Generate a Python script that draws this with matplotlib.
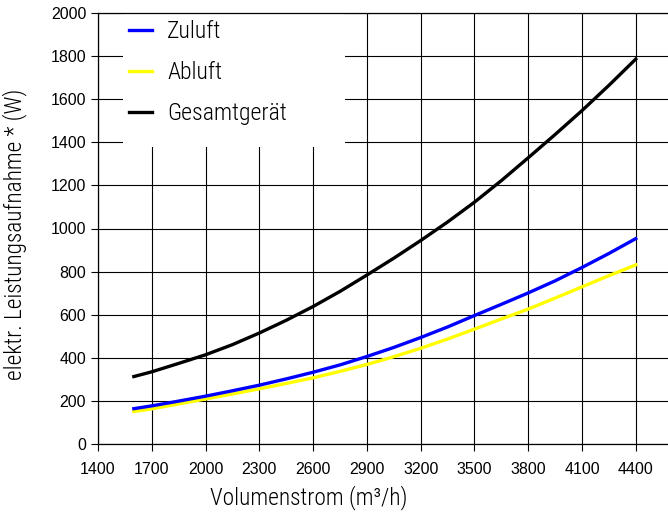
import matplotlib
matplotlib.use('Agg')
import matplotlib.pyplot as plt
from matplotlib import font_manager
from matplotlib.patches import Rectangle

# values (every 150 m3/h)
volumen = [1600, 1700, 1850, 2000, 2150, 2300, 2450, 2600, 2750, 2900,
           3050, 3200, 3350, 3500, 3650, 3800, 3950, 4100, 4250, 4400]
zuluft = [164, 177, 199, 222, 247, 273, 302, 333, 367, 406,
          448, 494, 543, 596, 648, 701, 757, 819, 884, 953]
abluft = [151, 163, 186, 209, 232, 256, 281, 307, 337, 369,
          405, 444, 487, 533, 580, 626, 677, 729, 781, 831]
gesamt = [313, 335, 374, 414, 461, 515, 574, 638, 708, 784,
          862, 944, 1030, 1122, 1222, 1328, 1436, 1547, 1664, 1786]

xticks = list(range(1400, 4401, 300))
yticks = list(range(0, 2001, 200))

names = set(f.name for f in font_manager.fontManager.ttflist)
narrow = 'DejaVu Sans'
for cand in ['Roboto Condensed', 'Fira Sans Condensed', 'Barlow Semi Condensed',
             'Encode Sans Semi Condensed', 'Asap Condensed', 'PT Sans Narrow',
             'Liberation Sans Narrow']:
  if cand in names:
    narrow = cand
    break
WEIGHT = 'light'
plt.rcParams['font.family'] = ['Liberation Sans', 'DejaVu Sans']

fig = plt.figure(figsize=(6.68, 5.13), dpi=100)
# axes runs off the right edge like in the original scan
ax = fig.add_axes([98/668, 1 - 444/513, 1 - 98/668, (444 - 13)/513])
renderer = fig.canvas.get_renderer()

def fit_size(text, target_px, size=14.0):
  # pick a font size so that the text is about target_px long
  t = fig.text(0, 0, text, family=narrow, fontsize=size, weight=WEIGHT)
  w = t.get_window_extent(renderer).width
  t.remove()
  return size * target_px / w

ax.plot(volumen, zuluft, color='#0000ff', lw=2.4, label='Zuluft', zorder=3)
ax.plot(volumen, abluft, color='#ffff00', lw=2.4, label='Abluft', zorder=2.9)
ax.plot(volumen, gesamt, color='black', lw=2.4, label='Gesamtgerät', zorder=3)

ax.set_xlim(1400, 4580)
ax.set_ylim(0, 2000)
ax.set_xticks(xticks)
ax.set_yticks(yticks)
ax.grid(True, color='black', lw=0.8)
ax.set_axisbelow(True)
ax.tick_params(axis='both', labelsize=11.5, length=5, width=0.8, direction='out')
ax.tick_params(axis='x', pad=8)
ax.spines['right'].set_visible(False)
for s in ['left', 'bottom', 'top']:
  ax.spines[s].set_linewidth(0.9)

xs = fit_size('Volumenstrom (m³/h)', 198)
ax.set_xlabel('Volumenstrom (m³/h)', fontsize=xs, family=narrow, weight=WEIGHT)
ax.xaxis.set_label_coords(211/570, -0.095)
ys = fit_size('elektr. Leistungsaufnahme * (W)', 292)
ax.set_ylabel('elektr. Leistungsaufnahme * (W)', fontsize=ys, family=narrow, weight=WEIGHT)
ax.yaxis.set_label_coords(-0.125, 0.487)

# white block behind the legend, larger than the entries
ax.add_patch(Rectangle((25/570, (444 - 147)/431), 222/570, 1.0, transform=ax.transAxes,
                       facecolor='white', edgecolor='none', zorder=1, clip_on=True))
ls = fit_size('Gesamtgerät', 120)
fpx = ls * 100 / 72
leg = ax.legend(loc='upper left', bbox_to_anchor=(31/570, (444 - (29 - 0.37*fpx))/431),
                frameon=False, prop={'family': narrow, 'size': ls, 'weight': WEIGHT},
                handlelength=23/fpx, handletextpad=15/fpx,
                labelspacing=(40 - 0.93*fpx)/fpx, borderpad=0, borderaxespad=0)
for h in leg.get_lines():
  h.set_linewidth(2.4)

fig.savefig('out.png', dpi=100)
